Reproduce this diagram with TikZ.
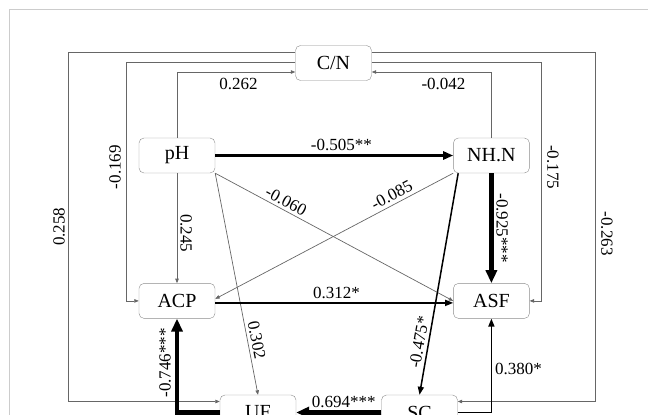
\documentclass[tikz,border=0pt]{standalone}
\usepackage{fontspec}
\setmainfont{Liberation Serif}
\usetikzlibrary{positioning,arrows.meta}

\begin{document}
\begin{tikzpicture}[
    x=1pt, y=-1pt,
    varbox/.style={draw=black!45, rounded corners=5pt, minimum width=76pt, minimum height=35pt, inner sep=2pt, font=\fontsize{20}{22}\selectfont},
    coef/.style={font=\fontsize{17}{19}\selectfont, inner sep=3pt},
    weakpath/.style={draw=black!60, line width=0.7pt, -{Triangle[length=4.5pt,width=3.5pt]}},
    midpath/.style={line width=1.5pt, -{Triangle[length=8pt,width=6pt]}},
    strongpath/.style={line width=2.6pt, -{Triangle[length=10pt,width=8pt]}},
    heavypath/.style={line width=4.2pt, -{Triangle[length=13pt,width=11pt]}}
  ]
  \useasboundingbox (0,0) rectangle (648,415);
  % Frame
  \draw[black!20, line width=0.8pt] (9,415) -- (9,9) -- (648,9);

  % Nodes
  \node[varbox] (pH) at (177,155.5) {pH};
  \node[varbox] (NHN) [right=238pt of pH] {NH.N};
  \node[varbox] (ACP) [below=110pt of pH] {ACP};
  \node[varbox] (ASF) [below=110pt of NHN] {ASF};
  \node[varbox] (CN) at (333.5,63) {C/N};
  \node[varbox] (UF) at (258,412.5) {UF};
  \node[varbox] (SC) at (419.5,412.5) {SC};

  % Loops through C/N
  \draw[weakpath] (pH.north) |- node[coef, pos=0.76, below, inner sep=5.5pt] {0.262} ([yshift=-9pt]CN.west);
  \draw[weakpath] (NHN.north) |- node[coef, pos=0.70, below, inner sep=5.5pt] {-0.042} ([yshift=-9pt]CN.east);
  \draw[weakpath] ([yshift=1pt]CN.west) -- ++(-169pt,0) |- node[coef, pos=0.22, rotate=90, anchor=south, inner sep=5pt] {-0.169} (ACP.west);
  \draw[weakpath] ([yshift=11pt]CN.west) -- ++(-227pt,0) |- node[coef, pos=0.25, rotate=90, anchor=south] {0.258} ([yshift=11pt]UF.west);
  \draw[weakpath] ([yshift=1pt]CN.east) -- ++(170pt,0) |- node[coef, pos=0.22, rotate=-90, anchor=south, inner sep=5pt] {-0.175} (ASF.east);
  \draw[weakpath] ([yshift=11pt]CN.east) -- ++(224pt,0) |- node[coef, pos=0.26, rotate=-90, anchor=south, inner sep=5pt] {-0.263} ([yshift=11pt]SC.east);

  % Arrows
  \draw[strongpath] (pH) -- node[coef, pos=0.53, above] {-0.505**} (NHN);
  \draw[weakpath] (pH) -- node[coef, pos=0.545, rotate=-90, anchor=south] {0.245} (ACP);
  \draw[weakpath] (pH.south east) -- node[coef, pos=0.28, sloped, above] {-0.060} (ASF.west);
  \draw[weakpath] (NHN.south west) -- node[coef, pos=0.24, sloped, above] {-0.085} ([yshift=2pt]ACP.east);
  \draw[weakpath] (pH.south east) -- node[coef, pos=0.76, sloped, above] {0.302} (UF.north);
  \draw[midpath] ([xshift=5pt]NHN.south west) -- node[coef, pos=0.77, sloped, above] {-0.475*} (SC.north);
  \draw[heavypath] (NHN) -- node[coef, pos=0.5, rotate=-90, anchor=south] {-0.925***} (ASF);
  \draw[midpath] ([yshift=-2pt]ACP.east) -- node[coef, pos=0.51, above] {0.312*} ([yshift=-2pt]ASF.west);
  \draw[heavypath] (SC) -- node[coef, pos=0.44, above] {0.694***} (UF);
  \draw[heavypath] (UF.west) -| node[coef, pos=0.765, rotate=90, anchor=south, inner sep=4pt] {-0.746***} (ACP.south);
  \draw[midpath] (SC.east) -| node[coef, pos=0.733, right] {0.380*} (ASF.south);
\end{tikzpicture}
\end{document}
